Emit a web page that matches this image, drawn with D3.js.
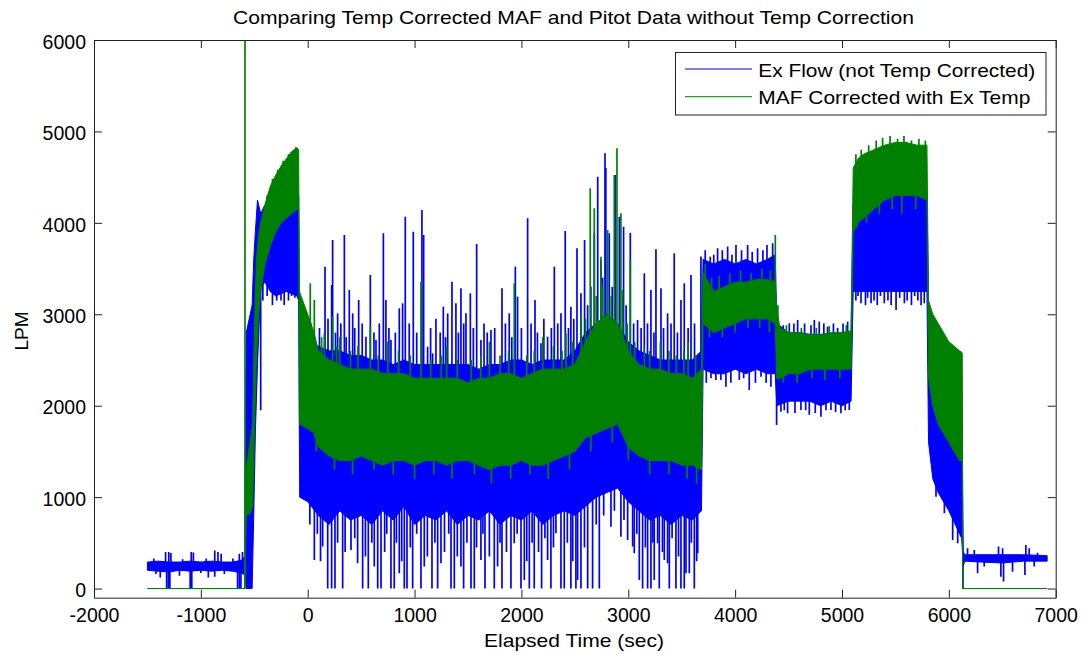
<!DOCTYPE html>
<html>
<head>
<meta charset="utf-8">
<script src="https://cdn.jsdelivr.net/npm/d3@7"></script>
<style>
  body { margin: 0; background: #fff; }
  svg { display: block; font-family: "Liberation Sans", Arial, Helvetica, sans-serif; }
</style>
</head>
<body>
<svg id="chart" width="1084" height="655"></svg>
<script>
// Exhaust flow vs MAF (LPM against elapsed seconds)

const xTicks = [-2000, -1000, 0, 1000, 2000, 3000, 4000, 5000, 6000, 7000]
const yTicks = [0, 1000, 2000, 3000, 4000, 5000, 6000]

// Ex Flow: dense band (lo..hi) at each knot
const blueT = [-1500, -1400, -1300, -1200, -1100, -1000, -900, -800, -700, -620, -590,
    -575, -520, -505, -490, -470, -440, -400, -350, -300, -200, -100, -85, -75,
    0, 100, 200, 300, 400, 500, 600, 700, 800, 900, 1000, 1100, 1200, 1300, 1400, 1500,
    1600, 1700, 1800, 1900, 2000, 2100, 2200, 2300, 2400, 2500, 2600, 2700, 2800, 2900,
    3000, 3100, 3200, 3300, 3400, 3500, 3600, 3685,
    3700, 3800, 3900, 4000, 4100, 4200, 4300, 4375,
    4390, 4500, 4600, 4700, 4800, 4900, 5000, 5085,
    5105, 5200, 5300, 5400, 5500, 5600, 5700, 5795,
    5810, 5850, 5900, 6000, 6080, 6120,
    6135, 6150, 6300, 6500, 6700, 6920]
const blueLo = [200, 190, 180, 200, 190, 200, 190, 200, 190, 170, 150,
    0, 0, 800, 1700, 2450, 3300, 3350, 3250, 3200, 3250, 3200, 3150, 1000,
    950, 800, 700, 850, 750, 800, 700, 850, 750, 900, 700, 800, 750, 850, 700, 800,
    750, 850, 700, 800, 750, 850, 700, 800, 850, 800, 900, 1000, 1050, 1100,
    950, 850, 750, 800, 700, 800, 750, 850,
    2400, 2350, 2350, 2400, 2350, 2400, 2350, 2350,
    2000, 2050, 2050, 2050, 2000, 2050, 2000, 2050,
    3250, 3250, 3250, 3250, 3250, 3250, 3250, 3250,
    1600, 1200, 1050, 850, 650, 550,
    250, 300, 290, 280, 300, 300]
const blueHi = [290, 300, 290, 290, 300, 290, 300, 290, 290, 310, 350,
    2800, 3100, 3600, 3900, 4250, 4100, 4200, 4250, 4250, 4300, 4300, 4300, 2800,
    2700, 2650, 2600, 2600, 2550, 2550, 2500, 2500, 2450, 2500, 2450, 2450, 2450, 2450, 2450, 2450,
    2400, 2450, 2450, 2500, 2500, 2450, 2500, 2500, 2500, 2600, 2800, 2900, 3000, 2900,
    2700, 2600, 2550, 2500, 2500, 2500, 2500, 2600,
    3600, 3550, 3600, 3550, 3600, 3550, 3600, 3650,
    2900, 2800, 2800, 2780, 2780, 2780, 2780, 2800,
    4200, 4250, 4300, 4300, 4300, 4350, 4350, 4350,
    3100, 2900, 2700, 2600, 2550, 2550,
    400, 370, 370, 370, 370, 360]

// Ex Flow: single samples sticking above the band
const blueUpT = [-1440, -1330, -1300, -1280, -1170, -1090, -1070, -950, -870, -840, -810, -700, -640, -610,
    62, 162, 224, 233, 280, 343, 389, 421, 477, 545, 586, 639, 708, 732, 779, 857, 888, 913, 988,
    1069, 1085, 1122, 1169, 1269, 1310, 1350, 1387, 1434, 1481, 1522, 1581, 1621, 1715, 1818, 1886,
    1943, 1964, 2058, 2127, 2183, 2245, 2308, 2370, 2410, 2463, 2520, 2557, 2591, 2682, 2714, 2744,
    2782, 2790, 2822, 2878, 2916, 2956, 3019, 3087, 3150, 3212, 3259, 3306, 3368, 3430, 3493, 3524,
    3587, 3680,
    30, 110, 190, 260, 310, 360, 440, 510, 620, 670, 760, 820, 950, 1020, 1150, 1200, 1240, 1290,
    1410, 1460, 1550, 1650, 1680, 1750, 1850, 1910, 2000, 2090, 2150, 2210, 2280, 2340, 2440, 2490,
    2620, 2650, 2760, 2850, 2980, 3050, 3120, 3180, 3240, 3330, 3400, 3460, 3560, 3620,
    3767, 3836, 3930, 4008, 4117, 4210, 4298, 4351, 3720, 3800, 3880, 3970, 4060, 4160, 4260,
    4507, 4585, 4741, 4787, 4865, 4959, 5053, 4450, 4550, 4650, 4710, 4830, 4920, 5010,
    6067, 6114,
    6175, 6238, 6465, 6503, 6721, 6752, 6830]
const blueUpV = [330, 400, 400, 390, 320, 400, 395, 330, 415, 400, 380, 330, 380, 400,
    2719, 3521, 3320, 3813, 3010, 3867, 3266, 3010, 3156, 2755, 3430, 2719, 3886, 3156, 2719, 3065, 3120, 4068, 3904,
    4141, 3867, 2646, 2573, 3083, 3010, 3357, 3120, 3284, 3010, 3229, 3769, 2719, 2828, 3284, 3010,
    3521, 3193, 4050, 3156, 2682, 2755, 3521, 3010, 3911, 3083, 3722, 3229, 3813, 3886, 4505, 3594,
    4761, 4600, 3886, 4524, 4068, 3958, 3893, 2938, 3448, 3266, 3711, 3284, 3010, 3667, 3156, 3339,
    3430, 3631,
    2900, 2850, 2950, 2800, 2900, 2750, 2850, 2900, 2800, 2900, 2850, 2800, 2900, 2800, 2850, 2950, 2800, 2750,
    2800, 2900, 2850, 2900, 2800, 2850, 2900, 2750, 2850, 2900, 2800, 2950, 2850, 2900, 2850, 2950,
    3100, 3300, 3400, 3300, 3100, 2900, 2850, 2900, 2800, 2850, 2900, 2800, 2850, 2900,
    3630, 3722, 3740, 3758, 3758, 3722, 3758, 3776, 3700, 3650, 3700, 3650, 3700, 3680, 3700,
    2901, 2938, 2938, 2920, 2865, 2850, 2920, 2880, 2900, 2900, 2880, 2900, 2900, 2900,
    2555, 2536,
    440, 422, 459, 440, 477, 440, 393]

// Ex Flow: single samples dropping below the band
const blueDownT = [-1420, -1380, -1320, -1305, -1290, -1200, -1100, -1085, -1000, -930, -870, -780, -656, -640, -625,
    -440, -420, -380, -330, -290, -250, -220, -180, -150, -120,
    187, 224, 255, 327, 514, 567, 655, 686, 779, 810, 904, 929, 982, 1060, 1163, 1216, 1341, 1372,
    1459, 1528, 1559, 1659, 1746, 1818, 1902, 1996, 2074, 2120, 2189, 2276, 2370, 2401, 2463, 2510,
    2557, 2620, 2666, 2729, 3134, 3181, 3212, 3290, 3384, 3446, 3493, 3524, 3618,
    62, 140, 405, 467, 623, 857, 1091, 1247, 1434, 1621, 1777, 1933, 2027, 2245, 2323, 2526, 2838,
    2931, 2994, 3041, 3056, 3103, 3243, 3275, 3337, 3368, 3540, 3571, 3650,
    20, 90, 120, 280, 350, 440, 540, 600, 720, 740, 830, 880, 960, 1020, 1120, 1190, 1280, 1320,
    1400, 1490, 1580, 1640, 1700, 1800, 1860, 1960, 2050, 2100, 2160, 2220, 2300, 2430, 2480, 2590,
    2700, 2770, 2870, 2960, 3080, 3160, 3230, 3320, 3410, 3470, 3590, 3640,
    3774, 3867, 3914, 4039, 4132, 4242, 4335, 3730, 3820, 3960, 4080, 4190, 4290,
    4388, 4429, 4491, 4616, 4694, 4803, 4897, 4990, 5068, 4460, 4560, 4660, 4750, 4850, 4940, 5030,
    5178, 5272, 5396, 5506, 5584, 5740, 5130, 5150, 5220, 5240, 5300, 5330, 5360, 5430, 5460, 5540,
    5610, 5650, 5680, 5710, 5770,
    5880, 5958, 6036, 6083,
    6132, 6269, 6331, 6487, 6512, 6596, 6712, 6799]
const blueDownV = [160, 120, 0, 0, 0, 140, 0, 0, 170, 120, 130, 160, 0, 0, 0,
    1950, 3150, 3200, 3100, 3150, 3150, 3100, 3150, 3200, 3180,
    0, 0, 0, 0, 0, 0, 0, 0, 0, 0, 0, 0, 0, 0, 0, 0, 0, 0,
    0, 0, 0, 0, 0, 0, 0, 0, 0, 0, 0, 0, 0, 0, 0, 0,
    0, 0, 0, 0, 0, 0, 0, 0, 0, 0, 0, 0, 0,
    313, 459, 422, 276, 240, 167, 240, 276, 240, 313, 240, 495, 94, 313, 604, 94, 677,
    568, 532, 459, 386, 94, 94, 495, 313, 276, 167, 167, 386,
    700, 600, 300, 500, 400, 550, 350, 500, 400, 600, 500, 300, 450, 600, 350, 500, 400, 600,
    350, 500, 450, 600, 350, 500, 400, 600, 300, 500, 400, 550, 450, 500, 300, 450,
    700, 800, 850, 750, 600, 450, 500, 400, 550, 350, 500, 300,
    2300, 2282, 2208, 2282, 2172, 2318, 2208, 2250, 2280, 2250, 2300, 2250, 2250,
    1789, 1935, 1917, 1953, 1900, 1880, 1953, 1917, 1953, 1950, 1920, 1950, 1920, 1950, 1930, 1950,
    3120, 3120, 3120, 3047, 3120, 3100, 3150, 3200, 3100, 3180, 3150, 3100, 3200, 3150, 3100, 3180,
    3150, 3100, 3200, 3150, 3120,
    1005, 823, 531, 495,
    0, 167, 240, 130, 76, 185, 149, 240]

// MAF corrected: band
const greenT = [-1500, -590, -575, -540, -515, -500, -480, -460, -440, -400, -350, -300, -250,
    -200, -150, -100, -85, -78, 0, 60,
    100, 200, 300, 400, 500, 600, 700, 800, 900, 1000, 1100, 1200, 1300, 1400, 1500, 1600,
    1700, 1800, 1900, 2000, 2100, 2200, 2300, 2400, 2500, 2600, 2700, 2800, 2900, 3000,
    3100, 3200, 3300, 3400, 3500, 3600, 3685,
    3700, 3750, 3800, 3900, 4000, 4100, 4200, 4300, 4375,
    4390, 4420, 4500, 4600, 4700, 4800, 4900, 5000, 5085,
    5105, 5150, 5200, 5300, 5400, 5500, 5600, 5700, 5795,
    5810, 5850, 5900, 5950, 6000, 6050, 6100, 6125,
    6130, 6920]
const greenLo = [0, 0, 800, 820, 900, 1700, 2500, 3000, 3250, 3550, 3750, 3900, 4000,
    4050, 4100, 4150, 4150, 1800, 1750, 1700,
    1550, 1450, 1400, 1400, 1450, 1400, 1350, 1400, 1400, 1350, 1400, 1400, 1350, 1400, 1400, 1350,
    1300, 1350, 1350, 1400, 1350, 1350, 1400, 1450, 1500, 1650, 1700, 1750, 1800, 1550,
    1450, 1400, 1400, 1400, 1350, 1350, 1300,
    2900, 2850, 2800, 2850, 2900, 2950, 2950, 2950, 2900,
    2300, 2300, 2350, 2350, 2400, 2400, 2400, 2400, 2400,
    3900, 4000, 4050, 4150, 4250, 4300, 4300, 4300, 4250,
    2300, 2000, 1800, 1700, 1600, 1500, 1400, 1400,
    0, 0]
const greenHi = [0, 0, 1300, 1600, 1800, 2800, 3600, 3850, 4000, 4200, 4400, 4520, 4620,
    4700, 4780, 4820, 4800, 3250, 3000, 2800,
    2600, 2500, 2450, 2400, 2400, 2400, 2350, 2350, 2350, 2300, 2300, 2300, 2300, 2300, 2250, 2300,
    2300, 2350, 2350, 2300, 2350, 2400, 2400, 2400, 2450, 2700, 2900, 3000, 2900, 2600,
    2450, 2400, 2400, 2350, 2350, 2300, 2400,
    3450, 3350, 3250, 3300, 3350, 3350, 3380, 3380, 3350,
    3050, 2850, 2800, 2800, 2780, 2780, 2800, 2800, 2820,
    4600, 4700, 4750, 4800, 4850, 4880, 4880, 4850, 4850,
    3150, 3000, 2900, 2800, 2700, 2650, 2600, 2580,
    0, 0]

const greenUpT = [-587, -380, -330, -280, -230, -180, -130, -110,
    24, 62, 155, 233, 300, 586, 750, 1060, 1300, 1700, 1933, 2200, 2417,
    2560, 2644, 2682, 2744, 2807, 2869, 2894, 2931, 2947, 3019, 3150, 3300, 3560,
    130, 270, 400, 470, 660, 850, 960, 1150, 1250, 1400, 1530, 1620, 1800, 1880, 2050, 2120,
    2300, 2380, 2480, 2600, 2700, 2760, 2840, 2990, 3060, 3200, 3380, 3450, 3520, 3630,
    4376, 3720, 3780, 3850, 3950, 4050, 4150, 4250, 4330,
    4400, 4480, 4620, 4760, 4880, 5040,
    5130, 5180, 5250, 5320, 5380, 5450, 5520, 5580, 5650, 5720, 5780]
const greenUpV = [6100, 4300, 4480, 4580, 4680, 4750, 4800, 4830,
    3339, 3156, 2792, 2974, 2750, 2865, 2700, 3357, 2650, 2700, 3339, 2750, 2792,
    3000, 4378, 4159, 3630, 3922, 4524, 4816, 4104, 3266, 3594, 2646, 2700, 2700,
    2750, 2650, 2600, 2650, 2550, 2600, 2550, 2500, 2550, 2500, 2500, 2550, 2550, 2600, 2550, 2600,
    2650, 2600, 2700, 2950, 3200, 3300, 3200, 2900, 2700, 2600, 2600, 2550, 2600, 2550,
    3868, 3550, 3400, 3420, 3450, 3480, 3450, 3500, 3480,
    3100, 2880, 2850, 2850, 2870, 2880,
    4750, 4800, 4850, 4900, 4930, 4950, 4920, 4950, 4900, 4920, 4900]

const greenDownT = [80, 250, 420, 620, 800, 1000, 1180, 1350, 1560, 1720, 1900, 2080, 2250, 2450,
    2650, 2850, 3000, 3200, 3380, 3550, 3640,
    3760, 3880, 4000, 4120, 4230, 4320,
    4450, 4580, 4720, 4840, 4980,
    5140, 5230, 5350, 5470, 5560, 5690]
const greenDownV = [1500, 1300, 1250, 1300, 1250, 1200, 1250, 1200, 1250, 1150, 1200, 1250, 1200, 1300,
    1500, 1600, 1400, 1250, 1250, 1200, 1150,
    2750, 2750, 2800, 2850, 2850, 2800,
    2250, 2250, 2300, 2280, 2300,
    3950, 4000, 4100, 4150, 4100, 4150]

const legendNames = ["Ex Flow (not Temp Corrected)", "MAF Corrected with Ex Temp"]
const blue = "#0000ff"
const green = "#008000"

const margin = { top: 40, right: 28.3, bottom: 57.3, left: 94 }
const W = 1084, H = 655

const svg = d3.select("#chart")

const x = d3.scaleLinear().domain([-2000, 7000]).range([margin.left, W - margin.right])
const y = d3.scaleLinear().domain([-100, 6000]).range([H - margin.bottom, margin.top])

svg.append("clipPath")
    .attr("id", "plotclip")
    .append("rect")
    .attr("x", margin.left)
    .attr("y", margin.top)
    .attr("width", W - margin.left - margin.right)
    .attr("height", H - margin.top - margin.bottom)

const plot = svg.append("g").attr("clip-path", "url(#plotclip)")

function drawSeries(ts, lo, hi, spikeT, spikeV, color) {
    const area = d3.area()
        .x(function (d, i) { return x(ts[i]) })
        .y0(function (d, i) { return y(lo[i]) })
        .y1(function (d, i) { return y(hi[i]) })

    plot.append("path")
        .datum(ts)
        .attr("d", area)
        .attr("fill", color)
        .attr("stroke", color)
        .attr("stroke-width", 1)

    // each spike runs from the band centre at the nearest knot
    plot.append("g")
        .selectAll("line")
        .data(spikeT)
        .enter()
        .append("line")
        .attr("x1", function (d) { return x(d) })
        .attr("x2", function (d) { return x(d) })
        .attr("y1", function (d) {
            const k = d3.bisectCenter(ts, d)
            return y((lo[k] + hi[k]) / 2)
        })
        .attr("y2", function (d, i) { return y(spikeV[i]) })
        .attr("stroke", color)
        .attr("stroke-width", 1.7)
}

drawSeries(blueT, blueLo, blueHi, blueUpT.concat(blueDownT), blueUpV.concat(blueDownV), blue)
drawSeries(greenT, greenLo, greenHi, greenUpT.concat(greenDownT), greenUpV.concat(greenDownV), green)

// axes, matlab style: box with inward ticks on all four sides
const axisColor = "#222"

const xAxis = svg.append("g")
    .attr("transform", "translate(0," + (H - margin.bottom) + ")")
    .call(d3.axisBottom(x).tickValues(xTicks).tickSizeInner(-8).tickSizeOuter(0).tickPadding(10)
        .tickFormat(function (d) { return String(d) }))
svg.append("g")
    .attr("transform", "translate(0," + margin.top + ")")
    .call(d3.axisTop(x).tickValues(xTicks).tickSizeInner(-8).tickSizeOuter(0).tickFormat(""))
const yAxis = svg.append("g")
    .attr("transform", "translate(" + margin.left + ",0)")
    .call(d3.axisLeft(y).tickValues(yTicks).tickSizeInner(-8).tickSizeOuter(0).tickPadding(8)
        .tickFormat(function (d) { return String(d) }))
svg.append("g")
    .attr("transform", "translate(" + (W - margin.right) + ",0)")
    .call(d3.axisRight(y).tickValues(yTicks).tickSizeInner(-8).tickSizeOuter(0).tickFormat(""))

svg.selectAll(".domain, .tick line").attr("stroke", axisColor).attr("stroke-width", 1)
svg.selectAll(".tick text")
    .attr("fill", "#000")
    .style("font-size", "19.5px")
    .style("font-family", "'Liberation Sans', Arial, Helvetica, sans-serif")
xAxis.selectAll(".tick text").attr("dy", "0.71em")
yAxis.selectAll(".tick text").attr("dy", "0.42em")

// titles
svg.append("text")
    .attr("x", 573.5)
    .attr("y", 24)
    .attr("text-anchor", "middle")
    .attr("textLength", 681)
    .attr("lengthAdjust", "spacingAndGlyphs")
    .style("font-size", "19px")
    .text("Comparing Temp Corrected MAF and Pitot Data without Temp Correction")

svg.append("text")
    .attr("x", 574)
    .attr("y", 647)
    .attr("text-anchor", "middle")
    .attr("textLength", 180)
    .attr("lengthAdjust", "spacingAndGlyphs")
    .style("font-size", "19px")
    .text("Elapsed Time (sec)")

svg.append("text")
    .attr("transform", "translate(28,331) rotate(-90)")
    .attr("text-anchor", "middle")
    .style("font-size", "19px")
    .text("LPM")

// legend
const legend = svg.append("g")
legend.append("rect")
    .attr("x", 675.5)
    .attr("y", 52.5)
    .attr("width", 370.5)
    .attr("height", 62.5)
    .attr("fill", "#fff")
    .attr("stroke", "#222")
    .attr("stroke-width", 1)

const legendColors = [blue, green]
const legendLens = [277, 272]
const legendRows = legend.selectAll(".row")
    .data(legendNames)
    .enter()
    .append("g")
    .attr("class", "row")
    .attr("transform", function (d, i) { return "translate(0," + (69 + i * 27.7) + ")" })

legendRows.append("line")
    .attr("x1", 685)
    .attr("x2", 752)
    .attr("stroke", function (d, i) { return legendColors[i] })
    .attr("stroke-width", 1)

legendRows.append("text")
    .attr("x", 758.3)
    .attr("y", 7.5)
    .attr("textLength", function (d, i) { return legendLens[i] })
    .attr("lengthAdjust", "spacingAndGlyphs")
    .style("font-size", "19px")
    .text(function (d) { return d })
</script>
</body>
</html>
